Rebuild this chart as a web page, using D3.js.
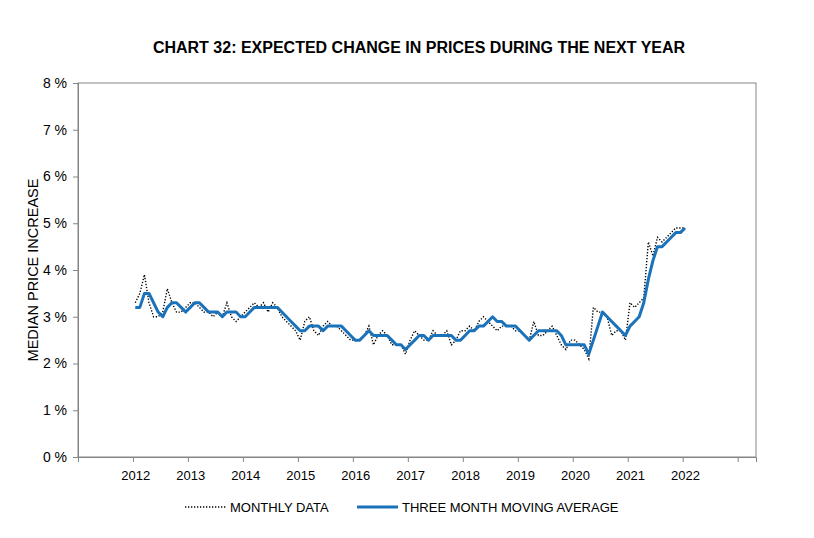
<!DOCTYPE html>
<html>
<head>
<meta charset="utf-8">
<script src="https://cdn.jsdelivr.net/npm/d3@7"></script>
<style>
  body { margin: 0; background: #fff; }
  svg { display: block; font-family: "Liberation Sans", Arial, sans-serif; }
</style>
</head>
<body>
<svg id="chart" width="814" height="538"></svg>
<script>
// Chart 32 : expected change in prices during the next year (Jan 2012 - Jan 2022, monthly)

const yearLabels = ["2012", "2013", "2014", "2015", "2016", "2017", "2018", "2019", "2020", "2021", "2022"];
const yTicks = [0, 1, 2, 3, 4, 5, 6, 7, 8];

// monthly data, one value per month from Jan 2012
const monthly = [
  3.3, 3.5, 3.9, 3.3, 3.0, 3.0, 3.1, 3.6, 3.3, 3.1, 3.1, 3.2,
  3.3, 3.3, 3.2, 3.1, 3.1, 3.0, 3.1, 3.0, 3.3, 3.0, 2.9, 3.0,
  3.1, 3.2, 3.3, 3.2, 3.3, 3.1, 3.3, 3.2, 3.0, 2.9, 2.8, 2.7,
  2.5, 2.9, 3.0, 2.7, 2.6, 2.8, 2.9, 2.8, 2.8, 2.7, 2.6, 2.5,
  2.5, 2.5, 2.6, 2.8, 2.4, 2.6, 2.7, 2.6, 2.4, 2.4, 2.4, 2.2,
  2.5, 2.7, 2.6, 2.5, 2.5, 2.7, 2.6, 2.6, 2.7, 2.4, 2.5, 2.7,
  2.7, 2.8, 2.7, 2.9, 3.0, 2.9, 2.8, 2.7, 2.8, 2.8, 2.8, 2.7,
  2.7, 2.6, 2.5, 2.9, 2.6, 2.6, 2.7, 2.8, 2.6, 2.4, 2.3, 2.5,
  2.5, 2.4, 2.3, 2.1, 3.2, 3.1, 3.1, 3.0, 2.6, 2.7, 2.7, 2.5,
  3.3, 3.2, 3.3, 3.4, 4.6, 4.3, 4.7, 4.6, 4.7, 4.8, 4.9, 4.9,
  4.9
];

// three month moving average
const movingAvg = [
  3.2, 3.2, 3.5, 3.5, 3.3, 3.1, 3.0, 3.2, 3.3, 3.3, 3.2, 3.1,
  3.2, 3.3, 3.3, 3.2, 3.1, 3.1, 3.1, 3.0, 3.1, 3.1, 3.1, 3.0,
  3.0, 3.1, 3.2, 3.2, 3.2, 3.2, 3.2, 3.2, 3.1, 3.0, 2.9, 2.8,
  2.7, 2.7, 2.8, 2.8, 2.8, 2.7, 2.8, 2.8, 2.8, 2.8, 2.7, 2.6,
  2.5, 2.5, 2.6, 2.7, 2.6, 2.6, 2.6, 2.6, 2.5, 2.4, 2.4, 2.3,
  2.4, 2.5, 2.6, 2.6, 2.5, 2.6, 2.6, 2.6, 2.6, 2.6, 2.5, 2.5,
  2.6, 2.7, 2.7, 2.8, 2.8, 2.9, 3.0, 2.9, 2.9, 2.8, 2.8, 2.8,
  2.7, 2.6, 2.5, 2.6, 2.7, 2.7, 2.7, 2.7, 2.7, 2.6, 2.4, 2.4,
  2.4, 2.4, 2.4, 2.2, 2.5, 2.8, 3.1, 3.0, 2.9, 2.8, 2.7, 2.6,
  2.8, 2.9, 3.0, 3.3, 3.8, 4.2, 4.5, 4.5, 4.6, 4.7, 4.8, 4.8,
  4.9
];

const svg = d3.select("#chart");
const margin = { top: 83, left: 78 };
const width = 678, height = 374;
const axisColor = "#858585";

// x = month index (0 = Jan 2012); axis starts one year earlier, tick marks between categories
const x = d3.scaleLinear().domain([-12.5, 135.5]).range([0, width]);
const y = d3.scaleLinear().domain([0, 8]).range([height, 0]);

const g = svg.append("g").attr("transform", `translate(${margin.left},${margin.top})`);

// titre
svg.append("text").attr("x", 419).attr("y", 53).attr("text-anchor", "middle")
  .attr("font-size", 16).attr("font-weight", "bold").attr("fill", "#000")
  .text("CHART 32: EXPECTED CHANGE IN PRICES DURING THE NEXT YEAR");

svg.append("text").attr("transform", "rotate(-90)").attr("x", -270).attr("y", 38)
  .attr("text-anchor", "middle").attr("font-size", 14.5).attr("fill", "#000")
  .text("MEDIAN PRICE INCREASE");

// plot frame
g.append("rect").attr("x", 0).attr("y", 0).attr("width", width).attr("height", height)
  .attr("fill", "none").attr("stroke", axisColor).attr("stroke-width", 1);

// axes
const yAxis = g.append("g")
  .call(d3.axisLeft(y).tickValues(yTicks).tickSize(5).tickPadding(6).tickFormat(d => d + " %"));
yAxis.select(".domain").attr("stroke", axisColor);
yAxis.selectAll(".tick line").attr("stroke", axisColor);
yAxis.selectAll(".tick text").attr("font-size", 14).attr("fill", "#000").attr("font-family", "Liberation Sans, Arial, sans-serif");

const tickMarks = d3.range(0, 13).map(k => -12.5 + 12 * k);
const xTicksG = g.append("g").attr("transform", `translate(0,${height})`)
  .call(d3.axisBottom(x).tickValues(tickMarks).tickSize(5).tickFormat(""));
xTicksG.select(".domain").attr("stroke", axisColor);
xTicksG.selectAll(".tick line").attr("stroke", axisColor);

const xLabelsG = g.append("g").attr("transform", `translate(0,${height})`)
  .call(d3.axisBottom(x).tickValues(yearLabels.map((d, i) => i * 12)).tickSize(0).tickPadding(14)
    .tickFormat((d, i) => yearLabels[i]));
xLabelsG.select(".domain").remove();
xLabelsG.selectAll(".tick text").attr("font-size", 13).attr("fill", "#000").attr("font-family", "Liberation Sans, Arial, sans-serif");

// series
const lineMonthly = d3.line().x((d, i) => x(i)).y(d => y(d));
const lineAvg = d3.line().x((d, i) => x(i)).y(d => y(d));

g.append("path").datum(monthly).attr("fill", "none").attr("stroke", "#000")
  .attr("stroke-width", 1.4).attr("stroke-dasharray", "1.3 1.7").attr("d", lineMonthly);
g.append("path").datum(movingAvg).attr("fill", "none").attr("stroke", "#1a73ba")
  .attr("stroke-width", 3).attr("stroke-linejoin", "round").attr("d", lineAvg);

// legende
const leg = svg.append("g").attr("transform", "translate(0,507)");
leg.append("line").attr("x1", 185).attr("x2", 227).attr("y1", 0).attr("y2", 0)
  .attr("stroke", "#000").attr("stroke-width", 1.4).attr("stroke-dasharray", "1.3 1.7");
leg.append("text").attr("x", 230).attr("y", 4.5).attr("font-size", 13).attr("fill", "#000").text("MONTHLY DATA");
leg.append("line").attr("x1", 357).attr("x2", 398).attr("y1", 0).attr("y2", 0)
  .attr("stroke", "#1a73ba").attr("stroke-width", 3);
leg.append("text").attr("x", 402).attr("y", 4.5).attr("font-size", 13).attr("fill", "#000").text("THREE MONTH MOVING AVERAGE");
</script>
</body>
</html>
